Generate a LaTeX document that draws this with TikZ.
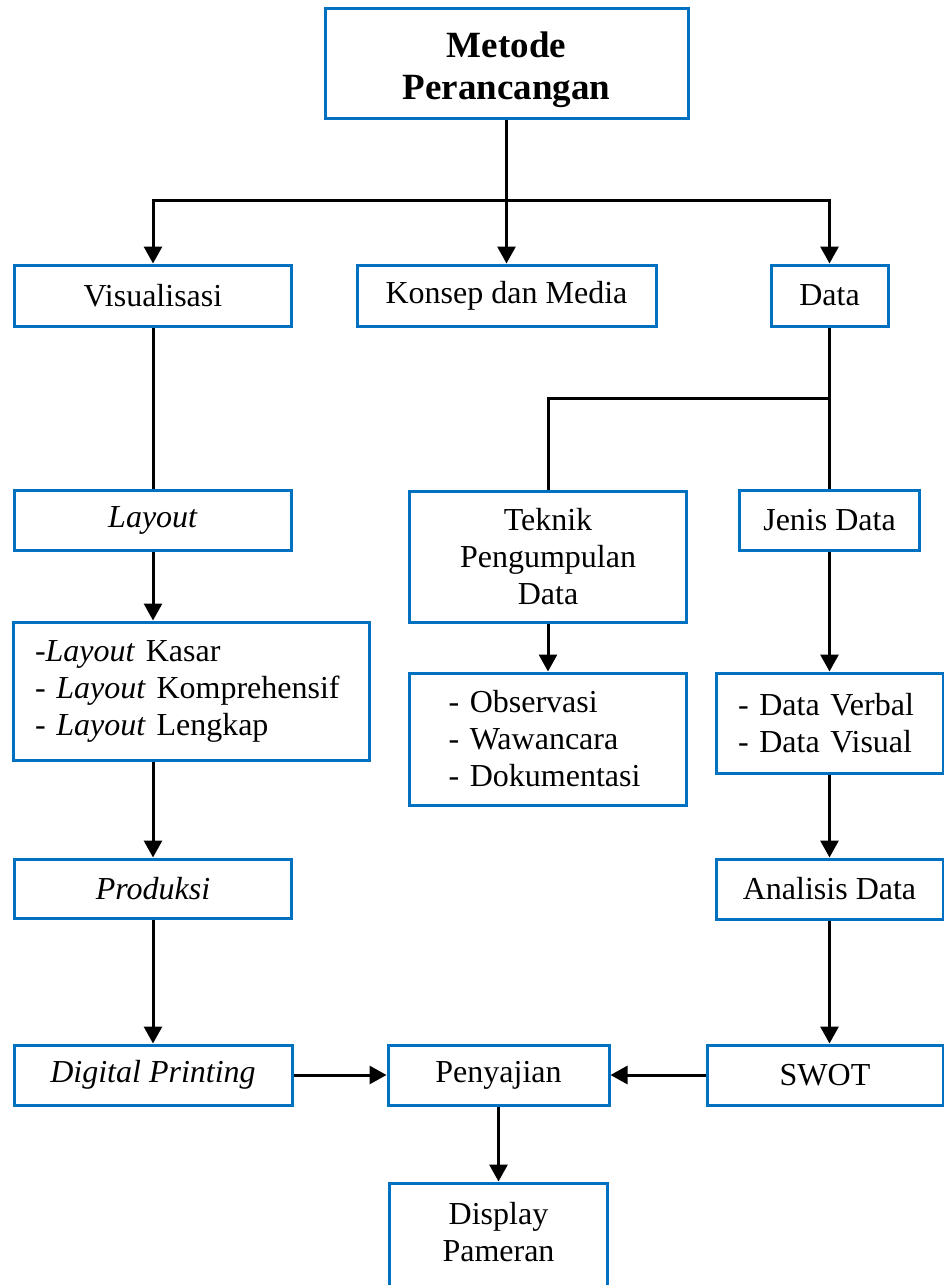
\documentclass[tikz,border=0pt]{standalone}
\usepackage{fontspec}
\setmainfont{Liberation Serif}
\usetikzlibrary{arrows.meta}
\definecolor{biru}{RGB}{0,112,192}
\tikzset{
  kotak/.style={draw=biru, line width=3pt, inner sep=0pt, align=center,
    font=\fontsize{32}{37}\selectfont},
  daftar/.style={kotak, align=left},
  panah/.style={line width=3pt, -{Triangle[width=18pt,length=17pt]}},
  garis/.style={line width=3pt}
}
\begin{document}
\begin{tikzpicture}[x=1pt,y=-1pt]
\useasboundingbox (0,0) rectangle (944,1285);
\clip (0,0) rectangle (944,1285);

\node[kotak, minimum width=363pt, minimum height=110pt, font=\fontsize{37}{42}\selectfont\bfseries]
  (metode) at (506.5,63) {\rule{0pt}{39pt}Metode\\Perancangan};

\node[kotak, minimum width=277pt, minimum height=61pt] (visual) at (153,295.5) {Visualisasi};
\node[kotak, minimum width=299pt, minimum height=61pt] (konsep) at (506.5,295.5) {Konsep dan Media};
\node[kotak, minimum width=117pt, minimum height=61pt] (data) at (829.5,295.5) {Data};

\node[kotak, minimum width=277pt, minimum height=60pt] (layout) at (153,520) {\textit{Layout}};
\node[kotak, minimum width=277pt, minimum height=131pt] (teknik) at (548,556.5) {Teknik\\Pengumpulan\\Data};
\node[kotak, minimum width=180pt, minimum height=60pt] (jenis) at (829.5,520) {Jenis Data};

\node[daftar, text width=312pt, minimum width=356pt, minimum height=138pt] (laylist) at (191,691)
  {-\textit{Layout} Kasar\\- \textit{Layout} Komprehensif\\- \textit{Layout} Lengkap};
\node[daftar, text width=199pt, minimum width=277pt, minimum height=132pt] (obs) at (548,739)
  {- Observasi\\- Wawancara\\- Dokumentasi};
\node[daftar, text width=183pt, minimum width=227pt, minimum height=100pt] (verbal) at (829.5,723)
  {- Data Verbal\\- Data Visual};

\node[kotak, minimum width=277pt, minimum height=59pt] (produksi) at (153,888.5) {\textit{Produksi}};
\node[kotak, minimum width=227pt, minimum height=60pt] (analisis) at (829.5,889) {Analisis Data};

\node[kotak, minimum width=278pt, minimum height=60pt] (digital) at (153,1075) {\textit{Digital Printing}};
\node[kotak, minimum width=221pt, minimum height=60pt] (saji) at (498.5,1075) {Penyajian};
\node[kotak, minimum width=236pt, minimum height=60pt] (swot) at (825,1075) {SWOT};

\node[kotak, minimum width=218pt, minimum height=146pt] (display) at (498.5,1256) {Display\\Pameran\\\strut};

\coordinate (cabang) at (506.5,200);
\coordinate (cabangdata) at (829.5,398);

\draw[panah] (metode) -- (konsep);
\draw[panah] (cabang) -| (visual);
\draw[panah] (cabang) -| (data);

\draw[garis] (data) -- (cabangdata);
\draw[garis] (cabangdata) -- (jenis);
\draw[garis] (cabangdata) -| (teknik);

\draw[garis] (visual) -- (layout);
\draw[panah] (layout.south) -- (layout.south |- laylist.north);
\draw[panah] (produksi.north |- laylist.south) -- (produksi.north);
\draw[panah] (produksi) -- (digital);

\draw[panah] (teknik) -- (obs);
\draw[panah] (jenis) -- (verbal);
\draw[panah] (verbal) -- (analisis);
\draw[panah] (analisis.south) -- (analisis.south |- swot.north);

\draw[panah] (digital) -- (saji);
\draw[panah] (swot) -- (saji);
\draw[panah] (saji) -- (display);
\end{tikzpicture}
\end{document}
